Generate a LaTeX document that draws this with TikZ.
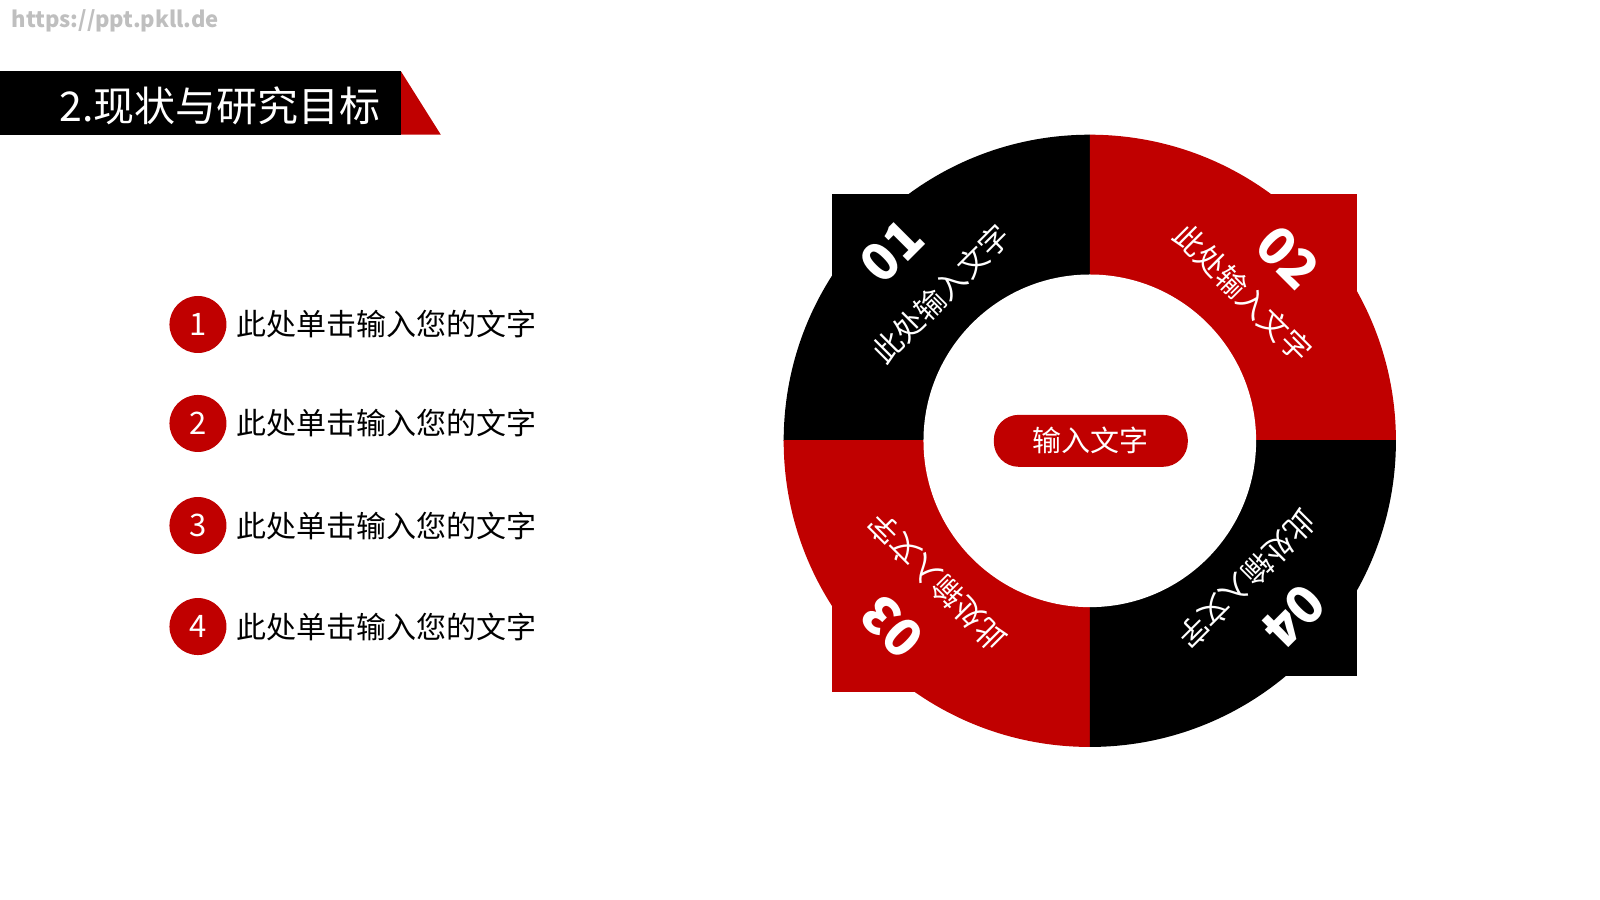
\documentclass[tikz,border=0pt]{standalone}
\usepackage{fontspec}
\setmainfont{Noto Sans CJK SC}
\definecolor{ppred}{RGB}{192,0,0}
\tikzset{
  item/.style={circle, fill=ppred, minimum size=57pt, inner sep=0pt, text=white, font=\fontsize{31}{31}\selectfont},
  itemtext/.style={anchor=west, font=\fontsize{30}{30}\selectfont},
  ringtext/.style={text=white, font=\fontsize{30}{30}\selectfont},
  ringnum/.style={text=white, font=\bfseries\fontsize{52}{52}\selectfont},
}
\begin{document}
\begin{tikzpicture}[x=1pt,y=-1pt,scale=1.0204]
	\useasboundingbox (0,0) rectangle (1568,882);
	\fill[white] (0,0) rectangle (1568,882);
	\node[text=black!25, anchor=west, font=\bfseries\fontsize{22}{22}\selectfont] (url) at (8,20) {https://ppt.pkll.de};
	% title bar
	\fill[black] (0,70) rectangle (393,132);
	\fill[ppred] (393,70) -- (432,132) -- (393,132) -- cycle;
	\node[text=white, font=\fontsize{41}{41}\selectfont] (title) at (216,104) {2.现状与研究目标};
	% list
	\foreach \n/\y in {1/318,2/415,3/515,4/614}{
		\node[item] (i\n) at (194,\y) {\n};
		\node[itemtext] (t\n) at (228,\y) {此处单击输入您的文字};
	}
	% ring
	\begin{scope}
		\clip (766,132) rectangle (1068,432);
		\fill[black] (1068,432) circle (300);
		\fill[black] (815,190) rectangle (1068,432);
	\end{scope}
	\begin{scope}
		\clip (1068,132) rectangle (1370,432);
		\fill[ppred] (1068,432) circle (300);
		\fill[ppred] (1068,190) rectangle (1330,432);
	\end{scope}
	\begin{scope}
		\clip (766,432) rectangle (1068,735);
		\fill[ppred] (1068,432) circle (300);
		\fill[ppred] (815,432) rectangle (1068,678);
	\end{scope}
	\begin{scope}
		\clip (1068,432) rectangle (1370,735);
		\fill[black] (1068,432) circle (300);
		\fill[black] (1068,432) rectangle (1330,662);
	\end{scope}
	\fill[white] (1068,432) circle (163);
	\node[ringnum, rotate=45] (n1) at (874,246) {01};
	\node[ringtext, rotate=45] (r1) at (922,288) {此处输入文字};
	\node[ringnum, rotate=-45] (n2) at (1262,252) {02};
	\node[ringtext, rotate=-45] (r2) at (1218,287) {此处输入文字};
	\node[ringnum, rotate=135] (n3) at (874,614) {03};
	\node[ringtext, rotate=135] (r3) at (918,570) {此处输入文字};
	\node[ringnum, rotate=225] (n4) at (1268,604) {04};
	\node[ringtext, rotate=225] (r4) at (1222,568) {此处输入文字};
	% center
	\node[fill=ppred, rounded corners=25pt, minimum width=194pt, minimum height=52pt, text=white, font=\fontsize{29}{29}\selectfont] (c) at (1069,432) {输入文字};
\end{tikzpicture}
\end{document}
